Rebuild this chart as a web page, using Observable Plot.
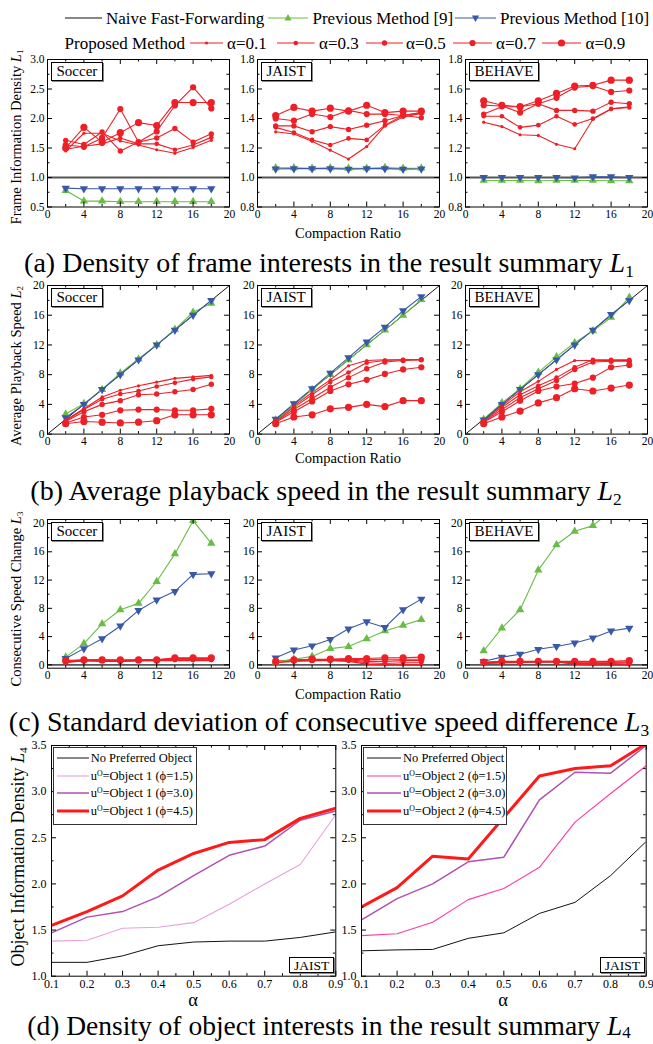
<!DOCTYPE html>
<html>
<head>
<meta charset="utf-8">
<script src="https://cdn.jsdelivr.net/npm/d3@7"></script>
<script src="https://cdn.jsdelivr.net/npm/@observablehq/plot@0.6"></script>
<style>
html,body{margin:0;padding:0;background:#fff;}
#root{position:relative;width:653px;height:1044px;overflow:hidden;font-family:"Liberation Serif","Times New Roman",serif;color:#000;}
.pp{position:absolute;overflow:visible;}
.t{position:absolute;white-space:nowrap;line-height:1;transform:translateY(-50%);}
.tc{position:absolute;white-space:nowrap;line-height:1;transform:translate(-50%,-50%);}
.ylab{position:absolute;white-space:nowrap;line-height:1;transform:translate(-50%,-50%) rotate(-90deg);}
.box{position:absolute;border:1px solid #000;background:#fff;line-height:1;white-space:nowrap;box-shadow:1px 1px 0 #888;}
.lg{position:absolute;border:1.5px solid #333;background:#fff;}
sub{font-size:62%;vertical-align:-0.3em;line-height:0;}
sup{font-size:62%;vertical-align:0.55em;line-height:0;}
.capd sub{vertical-align:-0.15em;}
</style>
</head>
<body>
<div id="root"></div>
<script>
// ---------------- DATA ----------------
const ratios = [2, 4, 6, 8, 10, 12, 14, 16, 18];
const alphaLabels = ["α=0.1", "α=0.3", "α=0.5", "α=0.7", "α=0.9"];
const naiveRatios = [0, 20];
const naiveL1 = [1, 1];
const naiveL2 = [0, 20];
const naiveL3 = [0, 0];

// (a) L1 frame information density
const soccerL1Prev9  = [0.78, 0.60, 0.60, 0.59, 0.59, 0.59, 0.59, 0.59, 0.59];
const soccerL1Prev10 = [0.82, 0.81, 0.81, 0.81, 0.81, 0.81, 0.81, 0.81, 0.81];
const soccerL1Proposed = [
  [1.45, 1.75, 1.75, 1.62, 1.55, 1.47, 1.41, 1.51, 1.63],
  [1.48, 1.53, 1.57, 1.67, 1.57, 1.57, 1.47, 1.55, 1.68],
  [1.63, 1.56, 1.77, 1.45, 1.60, 1.67, 1.83, 1.60, 1.74],
  [1.55, 1.52, 1.67, 2.16, 1.60, 1.78, 2.22, 2.53, 2.17],
  [1.50, 1.85, 1.60, 1.76, 1.93, 1.88, 2.27, 2.27, 2.27]
];
const jaistL1Prev9  = [1.065, 1.065, 1.063, 1.065, 1.062, 1.063, 1.067, 1.062, 1.063];
const jaistL1Prev10 = [1.058, 1.060, 1.060, 1.060, 1.057, 1.060, 1.060, 1.057, 1.058];
const jaistL1Proposed = [
  [1.31, 1.295, 1.245, 1.185, 1.125, 1.21, 1.35, 1.41, 1.435],
  [1.34, 1.305, 1.255, 1.22, 1.265, 1.255, 1.355, 1.42, 1.44],
  [1.35, 1.35, 1.31, 1.345, 1.325, 1.355, 1.385, 1.42, 1.405],
  [1.40, 1.385, 1.43, 1.41, 1.455, 1.43, 1.43, 1.42, 1.44],
  [1.42, 1.475, 1.45, 1.47, 1.45, 1.49, 1.44, 1.45, 1.45]
];
const behaveL1Prev9  = [0.98, 0.98, 0.98, 0.978, 0.98, 0.98, 0.98, 0.978, 0.978];
const behaveL1Prev10 = [1.0, 1.0, 1.0, 1.0, 1.0, 0.998, 1.005, 1.005, 1.0];
const behaveL1Proposed = [
  [1.375, 1.345, 1.29, 1.285, 1.225, 1.195, 1.395, 1.465, 1.48],
  [1.415, 1.415, 1.34, 1.355, 1.415, 1.36, 1.40, 1.465, 1.475],
  [1.43, 1.48, 1.48, 1.50, 1.455, 1.455, 1.45, 1.51, 1.50],
  [1.49, 1.485, 1.44, 1.50, 1.54, 1.61, 1.62, 1.58, 1.59],
  [1.52, 1.49, 1.48, 1.52, 1.57, 1.62, 1.625, 1.66, 1.66]
];

// (b) L2 average playback speed
const soccerL2Prev9  = [2.7, 4.1, 6.0, 8.2, 10.1, 12.0, 14.1, 16.4, 17.6];
const soccerL2Prev10 = [2.2, 4.0, 6.0, 8.0, 10.0, 12.0, 14.0, 16.0, 18.0];
const soccerL2Proposed = [
  [1.9, 3.4, 5.0, 5.9, 6.5, 7.0, 7.5, 7.7, 7.9],
  [1.8, 3.3, 4.7, 5.4, 5.8, 6.4, 6.9, 7.4, 7.7],
  [1.7, 3.0, 4.0, 4.5, 5.3, 5.4, 5.7, 6.0, 6.7],
  [1.5, 2.3, 2.6, 3.2, 3.3, 3.3, 3.2, 3.2, 3.4],
  [1.4, 1.7, 1.6, 1.5, 1.6, 1.8, 2.6, 2.6, 2.6]
];
const jaistL2Prev9  = [1.9, 3.9, 6.0, 8.0, 10.0, 12.0, 14.0, 16.0, 18.1];
const jaistL2Prev10 = [2.0, 4.1, 6.1, 8.2, 10.3, 12.4, 14.4, 16.6, 18.5];
const jaistL2Proposed = [
  [1.9, 3.8, 5.6, 7.3, 9.2, 9.9, 10.0, 10.0, 10.0],
  [1.8, 3.6, 5.3, 7.0, 8.3, 9.6, 9.9, 10.0, 10.0],
  [1.7, 3.3, 4.8, 6.3, 7.6, 8.8, 9.7, 9.9, 10.0],
  [1.6, 3.0, 4.4, 5.8, 6.7, 7.3, 8.1, 8.7, 9.0],
  [1.4, 2.3, 2.6, 3.4, 3.6, 4.0, 3.7, 4.5, 4.5]
];
const behaveL2Prev9  = [2.0, 4.2, 6.1, 8.3, 10.4, 12.3, 13.9, 15.7, 18.4];
const behaveL2Prev10 = [1.9, 4.0, 6.0, 8.0, 10.0, 12.0, 14.0, 16.1, 18.0];
const behaveL2Proposed = [
  [1.9, 3.8, 5.7, 7.1, 8.7, 9.9, 9.9, 9.9, 9.9],
  [1.8, 3.6, 5.3, 6.5, 7.6, 9.0, 10.0, 10.0, 10.0],
  [1.7, 3.3, 4.9, 6.1, 7.2, 8.7, 9.7, 9.8, 9.8],
  [1.6, 3.0, 4.5, 5.8, 6.4, 6.8, 7.6, 9.0, 9.3],
  [1.4, 2.3, 3.1, 4.2, 4.9, 6.1, 5.8, 6.2, 6.6]
];

// (c) L3 consecutive speed change
const soccerL3Prev9  = [1.1, 3.0, 5.8, 7.8, 8.7, 11.8, 15.7, 20.4, 17.2];
const soccerL3Prev10 = [0.9, 2.3, 3.7, 5.5, 7.7, 9.2, 10.4, 12.8, 12.9];
const soccerL3Proposed = [
  [0.3, 0.6, 0.5, 0.5, 0.6, 0.6, 0.6, 0.6, 0.6],
  [0.4, 0.6, 0.6, 0.5, 0.6, 0.6, 0.7, 0.7, 0.7],
  [0.5, 0.6, 0.6, 0.6, 0.6, 0.7, 0.8, 0.8, 0.8],
  [0.5, 0.7, 0.7, 0.6, 0.7, 0.7, 0.9, 0.9, 0.9],
  [0.6, 0.7, 0.7, 0.7, 0.7, 0.7, 1.0, 1.0, 1.0]
];
const jaistL3Prev9  = [0.4, 0.8, 1.2, 2.3, 2.6, 3.7, 4.8, 5.6, 6.4];
const jaistL3Prev10 = [1.0, 2.1, 2.7, 3.6, 5.1, 6.1, 5.3, 7.8, 9.3];
const jaistL3Proposed = [
  [0.3, 0.5, 0.6, 0.6, 0.5, 0.1, 0.0, 0.0, 0.0],
  [0.4, 0.6, 0.6, 0.7, 0.6, 0.3, 0.2, 0.3, 0.3],
  [0.4, 0.6, 0.7, 0.7, 0.7, 0.5, 0.5, 0.6, 0.6],
  [0.4, 0.7, 0.7, 0.8, 0.8, 0.7, 0.8, 0.8, 0.8],
  [0.5, 0.7, 0.8, 0.8, 0.9, 0.9, 1.0, 1.0, 1.1]
];
const behaveL3Prev9  = [2.0, 5.2, 7.8, 13.4, 17.0, 18.9, 19.7, 21.8, 23.0];
const behaveL3Prev10 = [0.5, 1.1, 1.5, 2.2, 2.6, 3.1, 3.8, 4.8, 5.2];
const behaveL3Proposed = [
  [0.2, 0.3, 0.3, 0.4, 0.4, 0.1, 0.0, 0.0, 0.0],
  [0.2, 0.3, 0.4, 0.4, 0.4, 0.2, 0.2, 0.2, 0.1],
  [0.3, 0.4, 0.4, 0.4, 0.4, 0.3, 0.3, 0.3, 0.3],
  [0.3, 0.4, 0.4, 0.5, 0.5, 0.4, 0.4, 0.4, 0.4],
  [0.4, 0.5, 0.5, 0.5, 0.5, 0.5, 0.5, 0.5, 0.6]
];

// (d) L4 object information density (JAIST)
const alphaValues = [0.1, 0.2, 0.3, 0.4, 0.5, 0.6, 0.7, 0.8, 0.9];
const obj1None  = [1.15, 1.15, 1.22, 1.33, 1.37, 1.38, 1.38, 1.42, 1.48];
const obj1Phi15 = [1.38, 1.39, 1.52, 1.53, 1.58, 1.78, 2.00, 2.21, 2.75];
const obj1Phi30 = [1.47, 1.64, 1.70, 1.86, 2.09, 2.31, 2.41, 2.69, 2.79];
const obj1Phi45 = [1.55, 1.70, 1.87, 2.15, 2.33, 2.45, 2.48, 2.71, 2.82];
const obj2None  = [1.275, 1.285, 1.29, 1.41, 1.47, 1.68, 1.80, 2.09, 2.46];
const obj2Phi15 = [1.44, 1.46, 1.585, 1.83, 1.95, 2.18, 2.67, 2.98, 3.28];
const obj2Phi30 = [1.61, 1.84, 2.00, 2.24, 2.29, 2.91, 3.21, 3.20, 3.50];
const obj2Phi45 = [1.75, 1.96, 2.30, 2.27, 2.72, 3.17, 3.25, 3.28, 3.52];

// ticks
const ratioTicks = [0, 4, 8, 12, 16, 20];
const ratioMinor = [2, 6, 10, 14, 18];
const soccerL1Ticks = [0.5, 1.0, 1.5, 2.0, 2.5, 3.0];
const soccerL1Minor = [0.75, 1.25, 1.75, 2.25, 2.75];
const narrowL1Ticks = [0.8, 1.0, 1.2, 1.4, 1.6, 1.8];
const narrowL1Minor = [0.9, 1.1, 1.3, 1.5, 1.7];
const speedTicks = [0, 4, 8, 12, 16, 20];
const speedMinor = [2, 6, 10, 14, 18];
const l4Ticks = [1.0, 1.5, 2.0, 2.5, 3.0, 3.5];
const l4Minor = [1.25, 1.75, 2.25, 2.75, 3.25];
const alphaTicks = [0.1, 0.2, 0.3, 0.4, 0.5, 0.6, 0.7, 0.8, 0.9];
const alphaMinor = [0.15, 0.25, 0.35, 0.45, 0.55, 0.65, 0.75, 0.85];

// ---------------- DRAWING ----------------
const root = document.getElementById("root");
const RED = "#ee1f26", GREEN = "#67bd45", BLUE = "#3a58a8";
const alphaRadius = [1.6, 2.3, 2.7, 3.1, 3.6];
const FONT = "'Liberation Serif','Times New Roman',serif";

function pts(xs, ys) { return ys.map((y, i) => ({x: xs[i], y})); }

function el(cls, html, css) {
  const d = document.createElement("div");
  d.className = cls; d.innerHTML = html;
  Object.assign(d.style, css);
  root.appendChild(d);
  return d;
}

function innerTicks(xMaj, xMin, yMaj, yMin, w, h) {
  const L = 5, l = 2.5, s = {stroke: "#000", strokeWidth: 1};
  return [
    Plot.tickX(xMaj, {x: d => d, insetTop: h - L, ...s}),
    Plot.tickX(xMaj, {x: d => d, insetBottom: h - L, ...s}),
    Plot.tickX(xMin, {x: d => d, insetTop: h - l, ...s}),
    Plot.tickX(xMin, {x: d => d, insetBottom: h - l, ...s}),
    Plot.tickY(yMaj, {y: d => d, insetRight: w - L, ...s}),
    Plot.tickY(yMaj, {y: d => d, insetLeft: w - L, ...s}),
    Plot.tickY(yMin, {y: d => d, insetRight: w - l, ...s}),
    Plot.tickY(yMin, {y: d => d, insetLeft: w - l, ...s})
  ];
}

function place(svg, left, top) {
  svg.classList.add("pp");
  svg.style.left = left + "px";
  svg.style.top = top + "px";
  root.appendChild(svg);
}

function ratioPanel(o) {
  const mL = 32, mR = 14, mT = 10, mB = 22;
  const clip = true;
  const marks = [];
  marks.push(Plot.line(pts(naiveRatios, o.naive), {x: "x", y: "y", stroke: o.naiveStroke, strokeWidth: o.naiveWidth, clip}));
  o.proposed.forEach(vals => {
    marks.push(Plot.line(pts(ratios, vals), {x: "x", y: "y", stroke: RED, strokeWidth: 1.1, clip}));
  });
  marks.push(Plot.line(pts(ratios, o.prev9), {x: "x", y: "y", stroke: GREEN, strokeWidth: 1.1, clip}));
  marks.push(Plot.line(pts(ratios, o.prev10), {x: "x", y: "y", stroke: BLUE, strokeWidth: 1.1, clip}));
  marks.push(Plot.dot(pts(ratios, o.prev9), {x: "x", y: "y", symbol: "triangle", r: 3.1, fill: GREEN, clip}));
  marks.push(Plot.dot(pts(ratios, o.prev10), {x: "x", y: "y", symbol: "triangle", r: 3.1, fill: BLUE, rotate: 180, clip}));
  o.proposed.forEach((vals, k) => {
    marks.push(Plot.dot(pts(ratios, vals), {x: "x", y: "y", r: alphaRadius[k], fill: RED, clip}));
  });
  marks.push(...innerTicks(ratioTicks, ratioMinor, o.yTicks, o.yMinor, o.w, o.h));
  marks.push(Plot.frame({stroke: "#000", strokeWidth: 1}));
  const svg = Plot.plot({
    width: o.w + mL + mR, height: o.h + mT + mB,
    marginLeft: mL, marginRight: mR, marginTop: mT, marginBottom: mB,
    x: {domain: [0, 20], ticks: ratioTicks, tickSize: 0, tickPadding: 3, label: null, tickFormat: d => String(d)},
    y: {domain: o.yDomain, ticks: o.yTicks, tickSize: 0, tickPadding: 3, label: null, tickFormat: o.yFmt},
    style: {background: "transparent", fontFamily: FONT, fontSize: "11.5px", color: "#000", overflow: "visible"},
    marks
  });
  place(svg, o.left - mL, o.top - mT);
  el("box", o.name, {left: (o.left + 4) + "px", top: (o.top + 3) + "px", fontSize: "15px", padding: "1px 5px 1px 5px"});
}

const cols = [46.5, 256.5, 464.5];
const PW = 182;
const rowA = {top: 59, h: 147.5};
const rowB = {top: 284.7, h: 148.6};
const rowC = {top: 519.3, h: 148.7};
const fmt1 = d => d.toFixed(1);
const fmt0 = d => String(d);

// Row (a)
ratioPanel({name: "Soccer", left: cols[0], top: rowA.top, w: PW, h: rowA.h, yDomain: [0.5, 3.0], yTicks: soccerL1Ticks, yMinor: soccerL1Minor, yFmt: fmt1,
  naive: naiveL1, naiveStroke: "#555", naiveWidth: 1.8, prev9: soccerL1Prev9, prev10: soccerL1Prev10, proposed: soccerL1Proposed});
ratioPanel({name: "JAIST", left: cols[1], top: rowA.top, w: PW, h: rowA.h, yDomain: [0.8, 1.8], yTicks: narrowL1Ticks, yMinor: narrowL1Minor, yFmt: fmt1,
  naive: naiveL1, naiveStroke: "#555", naiveWidth: 1.8, prev9: jaistL1Prev9, prev10: jaistL1Prev10, proposed: jaistL1Proposed});
ratioPanel({name: "BEHAVE", left: cols[2], top: rowA.top, w: PW, h: rowA.h, yDomain: [0.8, 1.8], yTicks: narrowL1Ticks, yMinor: narrowL1Minor, yFmt: fmt1,
  naive: naiveL1, naiveStroke: "#555", naiveWidth: 1.8, prev9: behaveL1Prev9, prev10: behaveL1Prev10, proposed: behaveL1Proposed});
// Row (b)
ratioPanel({name: "Soccer", left: cols[0], top: rowB.top, w: PW, h: rowB.h, yDomain: [0, 20], yTicks: speedTicks, yMinor: speedMinor, yFmt: fmt0,
  naive: naiveL2, naiveStroke: "#111", naiveWidth: 1, prev9: soccerL2Prev9, prev10: soccerL2Prev10, proposed: soccerL2Proposed});
ratioPanel({name: "JAIST", left: cols[1], top: rowB.top, w: PW, h: rowB.h, yDomain: [0, 20], yTicks: speedTicks, yMinor: speedMinor, yFmt: fmt0,
  naive: naiveL2, naiveStroke: "#111", naiveWidth: 1, prev9: jaistL2Prev9, prev10: jaistL2Prev10, proposed: jaistL2Proposed});
ratioPanel({name: "BEHAVE", left: cols[2], top: rowB.top, w: PW, h: rowB.h, yDomain: [0, 20], yTicks: speedTicks, yMinor: speedMinor, yFmt: fmt0,
  naive: naiveL2, naiveStroke: "#111", naiveWidth: 1, prev9: behaveL2Prev9, prev10: behaveL2Prev10, proposed: behaveL2Proposed});
// Row (c)
ratioPanel({name: "Soccer", left: cols[0], top: rowC.top, w: PW, h: rowC.h, yDomain: [-0.47, 20.57], yTicks: speedTicks, yMinor: speedMinor, yFmt: fmt0,
  naive: naiveL3, naiveStroke: "#555", naiveWidth: 1.8, prev9: soccerL3Prev9, prev10: soccerL3Prev10, proposed: soccerL3Proposed});
ratioPanel({name: "JAIST", left: cols[1], top: rowC.top, w: PW, h: rowC.h, yDomain: [-0.47, 20.57], yTicks: speedTicks, yMinor: speedMinor, yFmt: fmt0,
  naive: naiveL3, naiveStroke: "#555", naiveWidth: 1.8, prev9: jaistL3Prev9, prev10: jaistL3Prev10, proposed: jaistL3Proposed});
ratioPanel({name: "BEHAVE", left: cols[2], top: rowC.top, w: PW, h: rowC.h, yDomain: [-0.47, 20.57], yTicks: speedTicks, yMinor: speedMinor, yFmt: fmt0,
  naive: naiveL3, naiveStroke: "#555", naiveWidth: 1.8, prev9: behaveL3Prev9, prev10: behaveL3Prev10, proposed: behaveL3Proposed});

// Row (d)
function objectPanel(o) {
  const mL = 34, mR = 14, mT = 10, mB = 24;
  const clip = true;
  const series = [
    {vals: o.none, stroke: "#111", w: 1},
    {vals: o.p15, stroke: o.c15, w: 1.1},
    {vals: o.p30, stroke: "#b050b0", w: 1.5},
    {vals: o.p45, stroke: "#ff1a1a", w: 3}
  ];
  const marks = series.map(s => Plot.line(pts(alphaValues, s.vals), {x: "x", y: "y", stroke: s.stroke, strokeWidth: s.w, clip}));
  marks.push(...innerTicks(alphaTicks, alphaMinor, l4Ticks, l4Minor, o.w, o.h));
  marks.push(Plot.frame({stroke: "#000", strokeWidth: 1}));
  const svg = Plot.plot({
    width: o.w + mL + mR, height: o.h + mT + mB,
    marginLeft: mL, marginRight: mR, marginTop: mT, marginBottom: mB,
    x: {domain: [0.1, 0.9], ticks: alphaTicks, tickSize: 0, tickPadding: 3, label: null, tickFormat: fmt1},
    y: {domain: [1.0, 3.5], ticks: l4Ticks, tickSize: 0, tickPadding: 5, label: null, tickFormat: fmt1},
    style: {background: "transparent", fontFamily: FONT, fontSize: "12px", color: "#000", overflow: "visible"},
    marks
  });
  place(svg, o.left - mL, o.top - mT);
  // legend box
  const rows = [
    ["No Preferred Object", "#111", 1],
    [`u<sup>O</sup>=Object ${o.obj} (ϕ=1.5)`, o.c15, 1.1],
    [`u<sup>O</sup>=Object ${o.obj} (ϕ=3.0)`, "#b050b0", 1.5],
    [`u<sup>O</sup>=Object ${o.obj} (ϕ=4.5)`, "#ff1a1a", 3]
  ];
  const lg = el("lg", "", {left: (o.left + 2) + "px", top: (o.top + 1.5) + "px", width: o.lgW + "px", height: "76px"});
  rows.forEach((r, i) => {
    const cy = 10.5 + i * 17.5;
    const s = document.createElementNS("http://www.w3.org/2000/svg", "svg");
    s.setAttribute("width", o.sampleW); s.setAttribute("height", 8);
    s.innerHTML = `<line x1="0" x2="${o.sampleW}" y1="4" y2="4" stroke="${r[1]}" stroke-width="${r[2]}"/>`;
    Object.assign(s.style, {position: "absolute", left: "3px", top: (cy - 4) + "px"});
    lg.appendChild(s);
    const t = document.createElement("div");
    t.className = "t"; t.innerHTML = r[0];
    Object.assign(t.style, {left: (o.sampleW + 5) + "px", top: cy + "px", fontSize: "12.5px"});
    lg.appendChild(t);
  });
  el("box", "JAIST", {left: (o.left + o.w - 46) + "px", top: (o.top + o.h - 19) + "px", fontSize: "13.5px", padding: "1px 4px 0px 4px"});
}
const rowD = {top: 745, h: 230.7};
objectPanel({left: 50.7, top: rowD.top, w: 284.3, h: rowD.h, obj: 1, none: obj1None, p15: obj1Phi15, p30: obj1Phi30, p45: obj1Phi45, c15: "#e6a2dc", lgW: 142, sampleW: 32});
objectPanel({left: 361, top: rowD.top, w: 284.7, h: rowD.h, obj: 2, none: obj2None, p15: obj2Phi15, p30: obj2Phi30, p45: obj2Phi45, c15: "#ff3aa6", lgW: 142, sampleW: 34});

// ---------------- TEXT: legend, labels, captions ----------------
function sample(left, cy, w, stroke, marker) {
  const s = document.createElementNS("http://www.w3.org/2000/svg", "svg");
  s.setAttribute("width", w); s.setAttribute("height", 12);
  let inner = `<line x1="0" x2="${w}" y1="6" y2="6" stroke="${stroke}" stroke-width="1.2"/>`;
  if (marker) inner += marker(w / 2, 6);
  s.innerHTML = inner;
  Object.assign(s.style, {position: "absolute", left: left + "px", top: (cy - 6) + "px"});
  root.appendChild(s);
}
const tri = (fill, down) => (cx, cy) => {
  const a = 3.6, b = 3.2;
  const p = down ? `${cx - a},${cy - b + 0.8} ${cx + a},${cy - b + 0.8} ${cx},${cy + b + 0.8}` : `${cx - a},${cy + b - 0.8} ${cx + a},${cy + b - 0.8} ${cx},${cy - b - 0.8}`;
  return `<polygon points="${p}" fill="${fill}"/>`;
};
const circ = r => (cx, cy) => `<circle cx="${cx}" cy="${cy}" r="${r}" fill="${RED}"/>`;

const LG1 = 17.5, LG2 = 42.5, LFS = "17px";
sample(64.6, LG1, 37.4, "#111", null);
el("t", "Naive Fast-Forwarding", {left: "106px", top: LG1 + "px", fontSize: LFS});
sample(268, LG1, 40, GREEN, tri(GREEN, false));
el("t", "Previous Method [9]", {left: "312.5px", top: LG1 + "px", fontSize: LFS});
sample(455, LG1, 41, BLUE, tri(BLUE, true));
el("t", "Previous Method [10]", {left: "500px", top: LG1 + "px", fontSize: LFS});
el("t", "Proposed Method", {left: "64.6px", top: LG2 + "px", fontSize: LFS});
const sampleLefts = [189.6, 277, 366, 453, 542];
const sampleWidths = [33, 37.6, 37, 39, 39];
const labelLefts = [227, 319, 406, 496, 585.6];
alphaLabels.forEach((lab, k) => {
  sample(sampleLefts[k], LG2, sampleWidths[k], RED, circ(alphaRadius[k]));
  el("t", lab, {left: labelLefts[k] + "px", top: LG2 + "px", fontSize: LFS});
});

// y-axis labels
el("ylab", "Frame Information Density <i>L</i><sub>1</sub>", {left: "16px", top: "137px", fontSize: "14.5px"});
el("ylab", "Average Playback Speed <i>L</i><sub>2</sub>", {left: "16px", top: "366px", fontSize: "14.5px"});
el("ylab", "Consecutive Speed Change <i>L</i><sub>3</sub>", {left: "16px", top: "599px", fontSize: "14.5px"});
el("ylab", "Object Information Density <i>L</i><sub>4</sub>", {left: "18px", top: "857px", fontSize: "18px"});

// x-axis labels
el("tc", "Compaction Ratio", {left: "348px", top: "232.5px", fontSize: "14.5px"});
el("tc", "Compaction Ratio", {left: "348px", top: "458px", fontSize: "14.5px"});
el("tc", "Compaction Ratio", {left: "348px", top: "693.5px", fontSize: "14.5px"});
el("tc", "α", {left: "193px", top: "1000.7px", fontSize: "18.5px", lineHeight: "0.6"});
el("tc", "α", {left: "503px", top: "1000.7px", fontSize: "18.5px", lineHeight: "0.6"});

// captions
const CFS = "28px";
el("tc", "(a) Density of frame interests in the result summary <i>L</i><sub>1</sub>", {left: "329px", top: "263px", fontSize: CFS});
el("tc", "(b) Average playback speed in the result summary <i>L</i><sub>2</sub>", {left: "326px", top: "491px", fontSize: CFS});
el("tc", "(c) Standard deviation of consecutive speed difference <i>L</i><sub>3</sub>", {left: "329px", top: "722px", fontSize: CFS});
el("tc capd", "(d) Density of object interests in the result summary <i>L</i><sub>4</sub>", {left: "329px", top: "1025.8px", fontSize: "27.5px", lineHeight: "0.8"});
</script>
</body>
</html>
